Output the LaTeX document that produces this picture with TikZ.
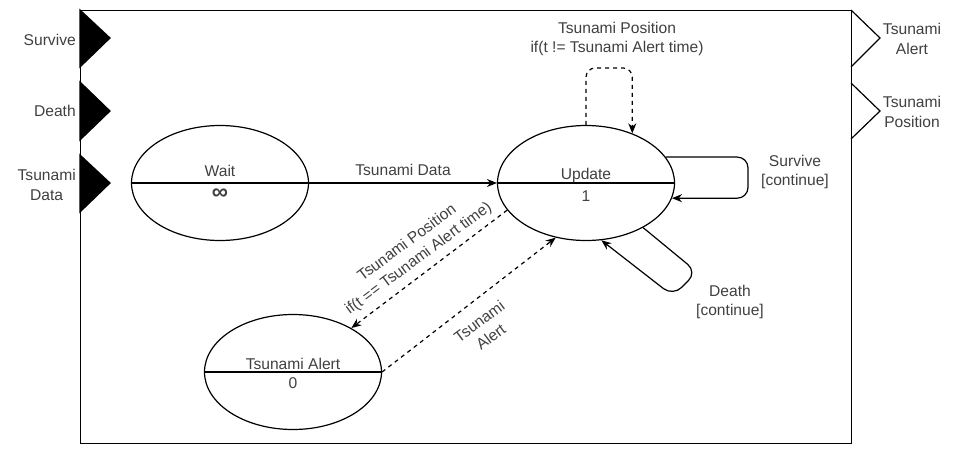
\documentclass[tikz,border=0pt]{standalone}
\usepackage{fontspec}
\setmainfont{Liberation Sans}
\usetikzlibrary{arrows.meta,shapes.geometric}
\definecolor{txt}{RGB}{64,64,64}
\newcommand{\fsz}{\fontsize{11.7}{14.5}\selectfont}
\begin{document}
\begin{tikzpicture}[x=0.75pt,y=-0.75pt,
  lbl/.style={font=\fsz,text=txt,align=center,inner sep=0pt},
  stt/.style={ellipse,draw,line width=0.9pt,minimum width=132.75pt,minimum height=86.25pt,inner sep=0pt},
  sline/.style={line width=0.9pt},
  arr/.style={line width=0.9pt,-{Stealth[length=7.5pt,width=6pt]}},
  dsh/.style={arr,dash pattern=on 3pt off 3pt},
  inport/.style={fill=black,draw=black,line width=0.9pt},
  outport/.style={draw=black,line width=0.9pt}]
\useasboundingbox (0,0) rectangle (965,458);
% frame
\node[draw,line width=0.9pt,anchor=north west,inner sep=0pt,minimum width=578.25pt,minimum height=324.75pt] (frame) at (80,10) {};
% input ports
\path[inport] (80,10) -- (110,38) -- (80,67) -- cycle;
\path[inport] (80,82) -- (110,111) -- (80,140) -- cycle;
\path[inport] (80,155) -- (110,183) -- (80,212) -- cycle;
\node[lbl,anchor=east] (lsurv) at (76,40) {Survive};
\node[lbl,anchor=east] (ldeath) at (76,111) {Death};
\node[lbl,anchor=east] (ldata) at (76,185) {Tsunami\\Data};
% output ports
\path[outport] (851,10) -- (880,38) -- (851,67);
\path[outport] (851,83) -- (880,111) -- (851,139);
\node[lbl] (lalert) at (912,39) {Tsunami\\Alert};
\node[lbl] (lpos) at (912,112) {Tsunami\\Position};
% states
\node[stt] (wait) at (220,183) {};
\draw[sline] (wait.west) -- (wait.east);
\node[lbl,anchor=base] (waitn) at (220,176) {Wait};
\node[lbl,anchor=base,font=\fontsize{17}{17}\selectfont\bfseries] (waitt) at (220,199) {∞};
\node[stt] (upd) at (586,183) {};
\draw[sline] (upd.west) -- (upd.east);
\node[lbl,anchor=base] (updn) at (586,179) {Update};
\node[lbl,anchor=base] (updt) at (586,201) {1};
\node[stt] (alert) at (293,372) {};
\draw[sline] (alert.west) -- (alert.east);
\node[lbl,anchor=base] (alertn) at (293,369) {Tsunami Alert};
\node[lbl,anchor=base] (alertt) at (293,388) {0};
% transitions
\draw[arr] (wait.east) -- (upd.west) node[midway,above=5pt,lbl] {Tsunami Data};
\draw[dsh,rounded corners=7pt] (upd.90) -- ++(0,-57) -| (upd.47);
\node[lbl] (ltop) at (617,39) {Tsunami Position\\if(t != Tsunami Alert time)};
\coordinate (sv) at (748,0);
\draw[arr,rounded corners=8pt] (upd.18) -| (sv |- upd.-10) -- (upd.-10);
\node[lbl] (lsv) at (795,172) {Survive\\{[continue]}};
\coordinate (d1) at (697,272);
\coordinate (d2) at (673,296);
\draw[arr,rounded corners=9pt] (upd.-38) -- (d1) -- (d2) -- (upd.285);
\node[lbl] (ldt) at (730,302) {Death\\{[continue]}};
\draw[dsh] (upd.199) -- (alert.37);
\node[lbl,rotate=36.6] (lpos2) at (413,251) {Tsunami Position\\if(t == Tsunami Alert time)};
\draw[dsh] (alert.east) -- (upd.241);
\node[lbl,rotate=36.6] (lal2) at (485,329) {Tsunami\\Alert};
\end{tikzpicture}
\end{document}
